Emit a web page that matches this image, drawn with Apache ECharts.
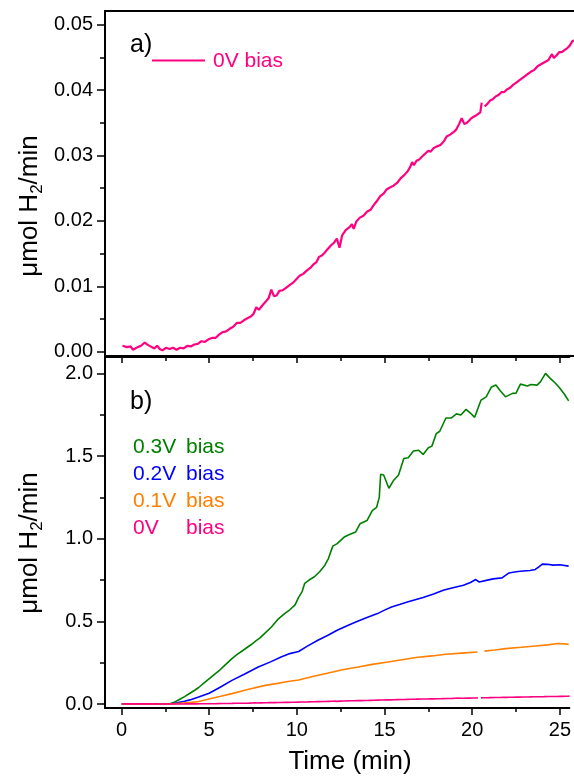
<!DOCTYPE html>
<html>
<head>
<meta charset="utf-8">
<script src="https://cdn.jsdelivr.net/npm/echarts@6/dist/echarts.min.js"></script>
<style>
  html, body { margin: 0; padding: 0; background: #fff; }
  #chart { width: 574px; height: 776px; }
</style>
</head>
<body>
<div id="chart"></div>
<script>
// ---- data ------------------------------------------------------------
// Time axis (min)
const timeRange = [-0.94, 25.54];
const timeMajorTicks = [0, 5, 10, 15, 20, 25];
const timeMinorTicks = [2.5, 7.5, 12.5, 17.5, 22.5];

// H2 evolution rate axes (umol H2/min)
const rateRangeA = [-0.00066, 0.0521];
const rateTicksA = [0, 0.01, 0.02, 0.03, 0.04, 0.05];
const rateMinorA = [0.005, 0.015, 0.025, 0.035, 0.045];
const rateRangeB = [-0.024, 2.099];
const rateTicksB = [0, 0.5, 1.0, 1.5, 2.0];
const rateMinorB = [0.25, 0.75, 1.25, 1.75];

const seriesNames = ['0.3V bias', '0.2V bias', '0.1V bias', '0V bias'];
const biasLabels = ['0.3V', '0.2V', '0.1V', '0V'];

// [time, rate] samples; '-' marks a dropped reading
const bias0V = [
  [0.05,0.0009],[0.3,0.0007],[0.5,0.0008],[0.65,0.0003],[0.9,0.0007],[1.1,0.0009],[1.3,0.0014],[1.5,0.0010],
  [1.7,0.0007],[1.85,0.0005],[2.0,0.0009],[2.15,0.0004],[2.3,0.0002],[2.5,0.0006],[2.7,0.0004],[2.9,0.0006],
  [3.1,0.0003],[3.3,0.0006],[3.5,0.0005],[3.7,0.0009],[3.9,0.0008],[4.1,0.0011],[4.3,0.0012],[4.5,0.0016],
  [4.7,0.0015],[4.9,0.0019],[5.1,0.0021],[5.3,0.0021],[5.5,0.0026],[5.7,0.0030],[5.9,0.0031],[6.1,0.0035],
  [6.3,0.0038],[6.5,0.0044],[6.7,0.0044],[6.9,0.0048],[7.1,0.0051],[7.3,0.0054],[7.45,0.0058],[7.6,0.0068],
  [7.75,0.0064],[7.95,0.0071],[8.15,0.0077],[8.3,0.0082],[8.45,0.0095],[8.6,0.0085],[8.75,0.0086],[8.9,0.0093],
  [9.1,0.0094],[9.3,0.0098],[9.5,0.0102],[9.7,0.0106],[9.9,0.0112],[10.05,0.0116],[10.25,0.0119],[10.45,0.0124],
  [10.65,0.0128],[10.85,0.0134],[11.0,0.0137],[11.15,0.0145],[11.3,0.0147],[11.45,0.0151],[11.6,0.0156],[11.8,0.0162],
  [12.0,0.0167],[12.15,0.0173],[12.3,0.0159],[12.45,0.0178],[12.65,0.0186],[12.85,0.0190],[13.0,0.0195],[13.1,0.0188],
  [13.25,0.0199],[13.45,0.0205],[13.65,0.0208],[13.85,0.0214],[14.05,0.0217],[14.2,0.0223],[14.4,0.0230],[14.6,0.0238],
  [14.8,0.0242],[14.95,0.0248],[15.15,0.0251],[15.35,0.0254],[15.55,0.0258],[15.75,0.0265],[15.95,0.0270],[16.15,0.0276],
  [16.3,0.0283],[16.4,0.0290],[16.5,0.0285],[16.65,0.0292],[16.8,0.0294],[16.95,0.0298],[17.1,0.0302],[17.3,0.0307],
  [17.45,0.0306],[17.6,0.0311],[17.8,0.0314],[18.0,0.0316],[18.2,0.0322],[18.35,0.0329],[18.55,0.0332],[18.75,0.0336],
  [18.9,0.0340],[19.05,0.0348],[19.2,0.0357],[19.35,0.0348],[19.5,0.0350],[19.7,0.0356],[19.85,0.0359],[20.05,0.0362],
  [20.25,0.0366],[20.33,0.0381],[20.42,'-'],[20.5,0.0375],[20.65,0.0379],[20.8,0.0384],[20.95,0.0386],[21.1,0.0390],
  [21.3,0.0393],[21.45,0.0397],[21.6,0.0397],[21.75,0.0401],[21.95,0.0404],[22.1,0.0408],[22.3,0.0412],[22.5,0.0416],
  [22.7,0.0420],[22.9,0.0424],[23.1,0.0428],[23.3,0.0431],[23.5,0.0437],[23.7,0.0440],[23.9,0.0443],[24.1,0.0446],
  [24.2,0.0451],[24.3,0.0455],[24.4,0.0449],[24.55,0.0453],[24.7,0.0458],[24.85,0.0458],[25.0,0.0461],[25.15,0.0464],
  [25.3,0.0468],[25.45,0.0475],[25.55,0.0476]
];

const bias01V = [
  [0,0],[1,0],[2,0],[3,0.002],[3.5,0.006],[4.0,0.010],[4.4,0.015],[5.0,0.030],[5.6,0.045],[6.3,0.063],[7.2,0.088],
  [8.2,0.113],[8.9,0.125],[9.5,0.136],[10.1,0.145],[10.9,0.166],[11.8,0.188],[12.6,0.207],[13.5,0.224],[14.3,0.240],
  [15.2,0.254],[16.0,0.268],[16.8,0.281],[17.7,0.291],[18.5,0.301],[19.4,0.308],[20.3,0.315],[20.45,'-'],[20.7,0.320],
  [21.3,0.327],[21.9,0.335],[22.8,0.343],[23.6,0.351],[24.3,0.358],[24.9,0.366],[25.2,0.365],[25.5,0.361]
];

const bias02V = [
  [0,0],[1,0],[2,0],[3,0.003],[3.3,0.010],[3.6,0.017],[3.9,0.025],[4.4,0.042],[5.0,0.065],[5.6,0.100],[6.3,0.143],
  [7.0,0.180],[7.8,0.224],[8.5,0.255],[9.1,0.285],[9.6,0.305],[10.1,0.318],[10.6,0.350],[11.2,0.386],[11.8,0.418],
  [12.3,0.446],[12.9,0.475],[13.5,0.502],[14.0,0.523],[14.6,0.547],[15.0,0.568],[15.4,0.587],[15.9,0.603],[16.3,0.617],
  [16.8,0.632],[17.2,0.644],[17.8,0.665],[18.35,0.688],[18.9,0.703],[19.5,0.718],[19.9,0.735],[20.2,0.753],[20.4,0.738],
  [20.8,0.748],[21.2,0.757],[21.7,0.763],[22.1,0.793],[22.5,0.800],[22.9,0.805],[23.3,0.808],[23.6,0.814],[23.8,0.830],
  [24.0,0.846],[24.3,0.845],[24.6,0.840],[25.0,0.842],[25.5,0.834]
];

const bias03V = [
  [0,0],[1,0],[2,0],[2.8,0.003],[2.9,0.015],[3.0,0.010],[3.1,0.005],[3.3,0.027],[3.6,0.045],[3.9,0.065],[4.2,0.085],
  [4.4,0.100],[4.8,0.135],[5.2,0.170],[5.55,0.200],[5.9,0.235],[6.3,0.275],[6.6,0.300],[7.0,0.330],[7.4,0.360],
  [7.7,0.385],[7.9,0.400],[8.2,0.430],[8.55,0.466],[8.9,0.510],[9.3,0.547],[9.6,0.570],[9.9,0.600],[10.1,0.645],
  [10.3,0.680],[10.45,0.730],[10.7,0.750],[11.0,0.770],[11.3,0.800],[11.6,0.840],[11.8,0.880],[12.05,0.955],[12.3,0.970],
  [12.7,1.010],[13.0,1.025],[13.35,1.040],[13.6,1.090],[14.0,1.110],[14.3,1.170],[14.55,1.190],[14.7,1.250],[14.78,1.390],
  [14.95,1.385],[15.25,1.305],[15.5,1.350],[15.8,1.385],[16.1,1.485],[16.35,1.490],[16.65,1.530],[16.95,1.535],[17.2,1.510],
  [17.5,1.550],[17.7,1.560],[17.95,1.635],[18.15,1.650],[18.5,1.730],[18.8,1.730],[19.1,1.755],[19.35,1.748],[19.65,1.782],
  [19.9,1.760],[20.14,1.734],[20.5,1.838],[20.8,1.858],[21.1,1.918],[21.35,1.930],[21.6,1.895],[21.9,1.858],[22.3,1.879],
  [22.5,1.880],[22.75,1.935],[23.15,1.923],[23.35,1.933],[23.7,1.929],[23.9,1.950],[24.18,2.000],[24.45,1.970],
  [24.75,1.940],[25.0,1.910],[25.25,1.875],[25.5,1.834]
];

// ---- styling ---------------------------------------------------------
const FONT = '"Liberation Sans", Arial, Helvetica, sans-serif';
const COLORS = { '0.3V bias': '#008000', '0.2V bias': '#0000ff', '0.1V bias': '#ff8000', '0V bias': '#ff0080' };
const AXIS_LINE = { show: true, onZero: false, lineStyle: { color: '#000', width: 2 } };
const TICK_STYLE = { color: '#000', width: 1.5 };

function xAxisPart(grid, position, opts) {
  return Object.assign({
    gridIndex: grid, type: 'value', position: position,
    min: timeRange[0], max: timeRange[1],
    axisLine: { show: false, onZero: false },
    axisTick: { show: false },
    axisLabel: { show: false },
    splitLine: { show: false }
  }, opts);
}

function yAxisPart(grid, range, opts) {
  return Object.assign({
    gridIndex: grid, type: 'value', position: 'left',
    min: range[0], max: range[1],
    axisLine: { show: false, onZero: false },
    axisTick: { show: false },
    axisLabel: { show: false },
    splitLine: { show: false }
  }, opts);
}

const xAxes = [
  // panel a: frame lines only
  xAxisPart(0, 'bottom', { axisLine: AXIS_LINE }),
  xAxisPart(0, 'top', { axisLine: AXIS_LINE }),
  // panel b: bottom time axis
  xAxisPart(1, 'bottom', {
    axisLine: AXIS_LINE,
    axisTick: { show: true, customValues: timeMajorTicks, length: 7, lineStyle: TICK_STYLE },
    axisLabel: { show: true, customValues: timeMajorTicks, color: '#000', fontFamily: FONT, fontSize: 20, margin: 12,
                 formatter: v => String(Math.round(v)) }
  }),
  xAxisPart(1, 'bottom', { axisTick: { show: true, customValues: timeMinorTicks, length: 4, lineStyle: TICK_STYLE } }),
  // panel b: top frame with inward ticks
  xAxisPart(1, 'top', {
    axisLine: AXIS_LINE,
    axisTick: { show: true, inside: true, customValues: timeMajorTicks, length: 6, lineStyle: TICK_STYLE }
  }),
  xAxisPart(1, 'top', { axisTick: { show: true, inside: true, customValues: timeMinorTicks, length: 4, lineStyle: TICK_STYLE } })
];

const yAxes = [
  yAxisPart(0, rateRangeA, {
    axisLine: AXIS_LINE,
    axisTick: { show: true, customValues: rateTicksA, length: 8, lineStyle: TICK_STYLE },
    axisLabel: { show: true, customValues: rateTicksA, color: '#000', fontFamily: FONT, fontSize: 20, margin: 12,
                 formatter: v => v.toFixed(2) }
  }),
  yAxisPart(0, rateRangeA, { axisTick: { show: true, customValues: rateMinorA, length: 5, lineStyle: TICK_STYLE } }),
  yAxisPart(1, rateRangeB, {
    axisLine: AXIS_LINE,
    axisTick: { show: true, customValues: rateTicksB, length: 8, lineStyle: TICK_STYLE },
    axisLabel: { show: true, customValues: rateTicksB, color: '#000', fontFamily: FONT, fontSize: 20, margin: 12,
                 formatter: v => v.toFixed(1) }
  }),
  yAxisPart(1, rateRangeB, { axisTick: { show: true, customValues: rateMinorB, length: 5, lineStyle: TICK_STYLE } })
];

function lineSeries(name, data, xi, yi, width) {
  return {
    name: name, type: 'line', data: data, xAxisIndex: xi, yAxisIndex: yi,
    showSymbol: false, symbol: 'none', connectNulls: false, clip: true,
    lineStyle: { color: COLORS[name], width: width }, itemStyle: { color: COLORS[name] },
    animation: false
  };
}

const panelBData = [bias03V, bias02V, bias01V, bias0V];
const series = [lineSeries('0V bias', bias0V, 0, 0, 2.2)];
seriesNames.forEach((n, i) => series.push(lineSeries(n, panelBData[i], 2, 2, 1.6)));

// y-axis title with subscript
const yTitleRich = {
  m: { fontSize: 26, fontFamily: FONT, lineHeight: 32, fill: '#000' },
  s: { fontSize: 17, fontFamily: FONT, verticalAlign: 'bottom', fill: '#000' }
};
const yTitleText = '{m|\u03bcmol H}{s|2}{m|/min}';

const graphics = [
  { type: 'text', x: 130, y: 45, style: { text: 'a)', fontSize: 25, fontFamily: FONT, fill: '#000', verticalAlign: 'middle' } },
  { type: 'line', shape: { x1: 152, y1: 60.5, x2: 205, y2: 60.5 }, style: { stroke: COLORS['0V bias'], lineWidth: 2 } },
  { type: 'text', x: 213, y: 61, style: { text: '0V bias', fontSize: 21, fontFamily: FONT, fill: COLORS['0V bias'], verticalAlign: 'middle' } },
  { type: 'text', x: 130, y: 402, style: { text: 'b)', fontSize: 25, fontFamily: FONT, fill: '#000', verticalAlign: 'middle' } },
  { type: 'text', x: 30, y: 206, rotation: Math.PI / 2,
    style: { text: yTitleText, rich: yTitleRich, align: 'center', verticalAlign: 'middle' } },
  { type: 'text', x: 30, y: 543, rotation: Math.PI / 2,
    style: { text: yTitleText, rich: yTitleRich, align: 'center', verticalAlign: 'middle' } },
  { type: 'text', x: 350, y: 762,
    style: { text: 'Time (min)', fontSize: 26, fontFamily: FONT, fill: '#000', align: 'center', verticalAlign: 'middle' } }
];
seriesNames.forEach((n, i) => {
  const c = COLORS[n];
  graphics.push({
    type: 'text', x: 133, y: 447 + i * 27,
    style: {
      text: '{v|' + biasLabels[i] + '}{b|bias}', verticalAlign: 'middle',
      rich: {
        v: { width: 53, fontSize: 21, fontFamily: FONT, fill: c },
        b: { fontSize: 21, fontFamily: FONT, fill: c }
      }
    }
  });
});

const chart = echarts.init(document.getElementById('chart'), null, { renderer: 'canvas' });
chart.setOption({
  backgroundColor: '#fff',
  animation: false,
  grid: [
    { left: 105, top: 11, width: 469, height: 345 },
    { left: 105, top: 357, width: 469, height: 351 }
  ],
  xAxis: xAxes,
  yAxis: yAxes,
  series: series,
  graphic: graphics
});
</script>
</body>
</html>
